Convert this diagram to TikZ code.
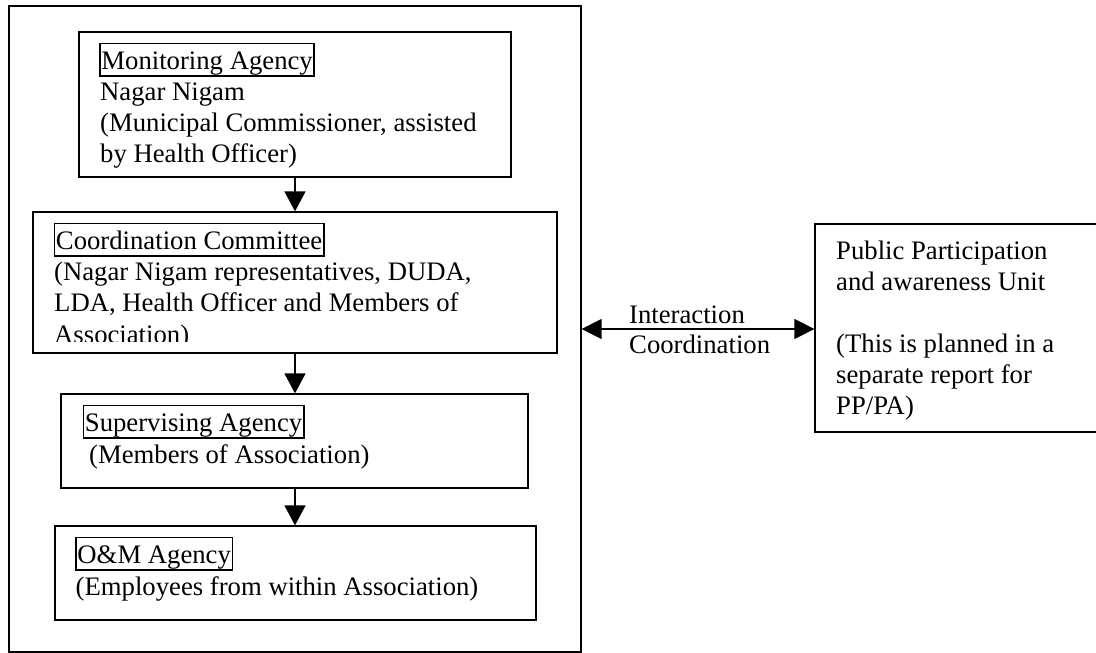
\documentclass[tikz,border=0pt]{standalone}
\usepackage{fontspec}
\setmainfont{Liberation Serif}
\usetikzlibrary{arrows.meta}
\newcommand\fs{\fontsize{26.7}{31}\selectfont}
\begin{document}
\begin{tikzpicture}[x=1pt,y=-1pt,
  box/.style={draw=black, line width=1.3pt, inner sep=0pt},
  frm/.style={draw=black, line width=1.9pt, inner xsep=1.5pt, inner ysep=0pt, text height=25.5pt, text depth=7pt, anchor=base west, font=\fs},
  txt/.style={inner sep=0pt, anchor=base west, font=\fs},
  arr/.style={line width=1.5pt, -{Triangle[length=20pt,width=21pt]}},
  darr/.style={line width=1.5pt, {Triangle[length=20pt,width=20pt]}-{Triangle[length=20pt,width=20pt]}}]
\clip (0,0) rectangle (1096,653);
\fill[white] (0,0) rectangle (1096,653);

% boxes
\node[box, minimum width=572pt, minimum height=646pt] (outer) at (295,329) {};
\node[box, minimum width=432pt, minimum height=145pt] (mon) at (295,104.5) {};
\node[box, minimum width=524pt, minimum height=141pt] (coord) at (295,282.5) {};
\node[box, minimum width=467pt, minimum height=94pt] (sup) at (294.5,441) {};
\node[box, minimum width=481pt, minimum height=94pt] (om) at (295.5,573) {};
\node[box, minimum width=285pt, minimum height=208pt] (pp) at (957.5,328) {};

% Monitoring
\node[frm] (monl) at (99,69) {Monitoring Agency};
\node[txt] (mon1) at (100,100) {Nagar Nigam};
\node[txt] (mon2) at (100,131) {(Municipal Commissioner, assisted};
\node[txt] (mon3) at (100,162) {by Health Officer)};

% Coordination
\node[frm] (coordl) at (53.5,249) {Coordination Committee};
\node[txt] (coord1) at (54,280) {(Nagar Nigam representatives, DUDA,};
\node[txt] (coord2) at (54,311) {LDA, Health Officer and Members of};
\begin{scope}
\clip (33,212) rectangle (557,341.5);
\node[txt] (coord3) at (54,343) {Association)};
\end{scope}

% Supervising
\node[frm] (supl) at (82.5,431) {Supervising Agency};
\node[txt] (sup1) at (89,463) {(Members of Association)};

% O&M
\node[frm] (oml) at (75,563) {O\&M Agency};
\node[txt] (om1) at (75.5,595) {(Employees from within Association)};

% Public participation
\node[txt] (pp1) at (836,259) {Public Participation};
\node[txt] (pp2) at (836,290) {and awareness Unit};
\node[txt] (pp3) at (836,352) {(This is planned in a};
\node[txt] (pp4) at (836,383) {separate report for};
\node[txt] (pp5) at (836,414) {PP/PA)};

% interaction labels
\node[txt] (int1) at (629,323) {Interaction};
\node[txt] (int2) at (629,353) {Coordination};

% connectors
\draw[arr] (mon.south) -- (coord.north);
\draw[arr] (coord.south) -- (coord.south |- sup.north);
\draw[arr] (sup.south -| coord.south) -- (coord.south |- om.north);
\draw[darr] (outer.east) -- (outer.east -| pp.west);
\end{tikzpicture}
\end{document}
